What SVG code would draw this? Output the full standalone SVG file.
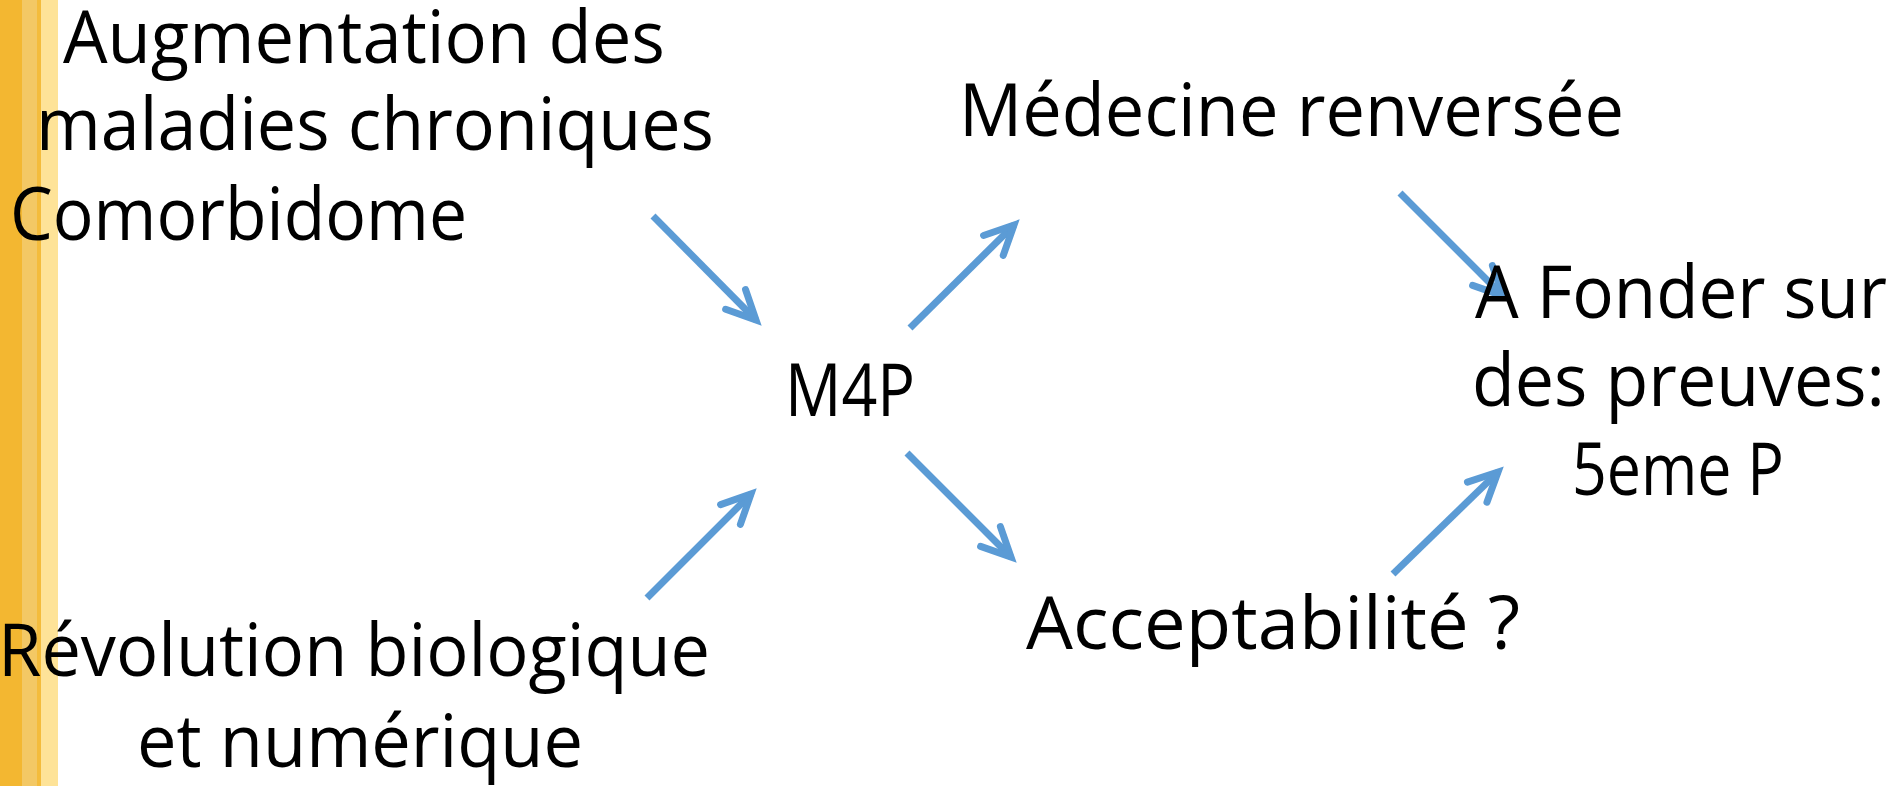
<svg xmlns="http://www.w3.org/2000/svg" width="1903" height="786" viewBox="0 0 1903 786">
<style>
  text { font-family: "Open Sans", "Noto Sans", "DejaVu Sans", sans-serif; font-size: 74px; fill: #000; }
  .conn line { stroke: #5B9BD5; stroke-width: 7; stroke-linecap: butt; }
</style>
<defs>
  <marker id="arrow" markerUnits="userSpaceOnUse" viewBox="-40 -25 50 50" markerWidth="50" markerHeight="50" refX="0" refY="0" orient="auto" overflow="visible">
    <path d="M -29 -14 L 0 0 L -29 14" fill="none" stroke="#5B9BD5" stroke-width="7" stroke-linecap="round" stroke-linejoin="miter"/>
  </marker>
</defs>
<rect x="0" y="0" width="1903" height="786" fill="#FFFFFF"/>
<g id="stripes">
  <rect x="0" y="0" width="22" height="786" fill="#F3B731"/>
  <rect x="22" y="0" width="15" height="786" fill="#F3C865"/>
  <rect x="37" y="0" width="4" height="786" fill="#F4BC3C"/>
  <rect x="41" y="0" width="17" height="786" fill="#FEE398"/>
</g>
<g class="conn" id="connectors">
  <line x1="653" y1="216" x2="756" y2="320" marker-end="url(#arrow)"/>
  <line x1="647" y1="598" x2="751" y2="494" marker-end="url(#arrow)"/>
  <line x1="910" y1="328" x2="1014" y2="225" marker-end="url(#arrow)"/>
  <line x1="907" y1="453" x2="1011" y2="557" marker-end="url(#arrow)"/>
  <line x1="1400" y1="193" x2="1503" y2="296" marker-end="url(#arrow)"/>
  <line x1="1393" y1="574" x2="1498" y2="472" marker-end="url(#arrow)"/>
</g>
<g id="node-augmentation">
  <text x="63" y="63" textLength="602" lengthAdjust="spacingAndGlyphs">Augmentation des</text>
  <text x="36" y="150" textLength="678" lengthAdjust="spacingAndGlyphs">maladies chroniques</text>
  <text x="10" y="240" textLength="457" lengthAdjust="spacingAndGlyphs">Comorbidome</text>
</g>
<g id="node-revolution">
  <text x="-2" y="676" textLength="712" lengthAdjust="spacingAndGlyphs">Révolution biologique</text>
  <text x="137" y="767" textLength="446" lengthAdjust="spacingAndGlyphs">et numérique</text>
</g>
<g id="node-m4p">
  <text x="785" y="416" textLength="130" lengthAdjust="spacingAndGlyphs">M4P</text>
</g>
<g id="node-medecine">
  <text x="959" y="136" textLength="665" lengthAdjust="spacingAndGlyphs">Médecine renversée</text>
</g>
<g id="node-acceptabilite">
  <text x="1026" y="649" textLength="494" lengthAdjust="spacingAndGlyphs">Acceptabilité ?</text>
</g>
<g id="node-fonder">
  <text x="1475" y="318" textLength="412" lengthAdjust="spacingAndGlyphs">A Fonder sur</text>
  <text x="1472" y="406" textLength="413" lengthAdjust="spacingAndGlyphs">des preuves:</text>
  <text x="1572" y="495" textLength="212" lengthAdjust="spacingAndGlyphs">5eme P</text>
</g>
</svg>
